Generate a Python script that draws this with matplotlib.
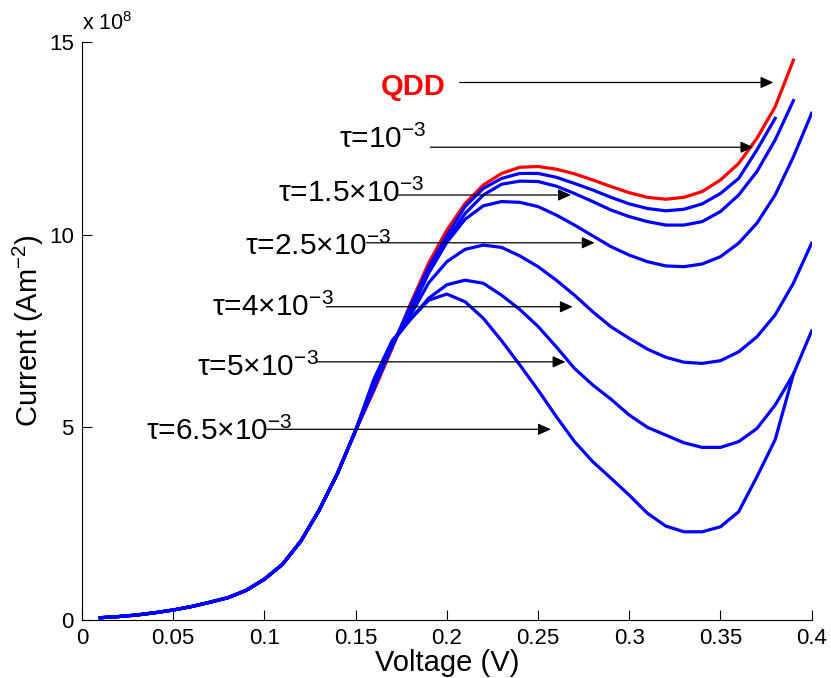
import matplotlib
matplotlib.use("Agg")
import matplotlib.pyplot as plt

plt.rcParams['font.family'] = ['Liberation Sans', 'DejaVu Sans']
plt.rcParams['mathtext.fontset'] = 'custom'
plt.rcParams['mathtext.rm'] = 'Liberation Sans'
plt.rcParams['mathtext.it'] = 'Liberation Sans:italic'
plt.rcParams['mathtext.bf'] = 'Liberation Sans:bold'

# voltage grid (V)
voltage = [0.01, 0.02, 0.03, 0.04, 0.05, 0.06, 0.07, 0.08, 0.09, 0.10,
           0.11, 0.12, 0.13, 0.14, 0.15, 0.16, 0.17, 0.18, 0.19, 0.20,
           0.21, 0.22, 0.23, 0.24, 0.25, 0.26, 0.27, 0.28, 0.29, 0.30,
           0.31, 0.32, 0.33, 0.34, 0.35, 0.36, 0.37, 0.38, 0.39, 0.40]

# current in units of 1e8 A/m^2, common rising part 0.01 .. 0.15 V
rise = [0.06, 0.09, 0.13, 0.19, 0.26, 0.35, 0.46, 0.58, 0.77, 1.06,
        1.45, 2.05, 2.85, 3.80, 4.92]

# from 0.16 V onward
qdd = [5.95, 7.05, 8.20, 9.26, 10.12, 10.81, 11.29, 11.59, 11.75, 11.77,
       11.70, 11.58, 11.42, 11.25, 11.09, 10.97, 10.92, 10.97, 11.12, 11.42,
       11.85, 12.50, 13.32, 14.53]
tau_1 = [6.00, 7.10, 8.15, 9.15, 9.98, 10.73, 11.20, 11.46, 11.59, 11.59,
         11.49, 11.33, 11.16, 10.97, 10.80, 10.68, 10.62, 10.66, 10.80, 11.07,
         11.46, 12.20, 13.02]
tau_15 = [6.05, 7.10, 8.10, 9.05, 9.86, 10.55, 11.03, 11.31, 11.39, 11.38,
          11.26, 11.07, 10.86, 10.64, 10.47, 10.34, 10.25, 10.25, 10.34, 10.60,
          11.03, 11.64, 12.46, 13.48]
tau_25 = [6.10, 7.15, 8.00, 9.00, 9.80, 10.40, 10.75, 10.86, 10.84, 10.73,
          10.51, 10.25, 9.97, 9.69, 9.47, 9.30, 9.19, 9.17, 9.24, 9.43,
          9.78, 10.30, 11.03, 12.02, 13.15]
tau_4 = [6.15, 7.20, 7.90, 8.75, 9.30, 9.62, 9.73, 9.67, 9.45, 9.17,
         8.82, 8.43, 8.00, 7.61, 7.31, 7.03, 6.82, 6.69, 6.66, 6.73,
         6.96, 7.35, 7.92, 8.74, 9.78]
tau_5 = [6.20, 7.20, 7.80, 8.35, 8.70, 8.82, 8.74, 8.43, 8.06, 7.62,
         7.09, 6.53, 6.10, 5.73, 5.32, 5.00, 4.80, 4.60, 4.48, 4.48,
         4.63, 4.97, 5.58, 6.38, 7.50]
tau_65 = [6.25, 7.25, 7.80, 8.30, 8.46, 8.26, 7.83, 7.25, 6.62, 5.97,
          5.28, 4.63, 4.11, 3.68, 3.24, 2.77, 2.44, 2.29, 2.29, 2.42,
          2.81, 3.72, 4.68, 6.38]

blue_series = [tau_1, tau_15, tau_25, tau_4, tau_5, tau_65]

# label texts, where they sit, and the arrows next to them
labels = ['τ=10$^{-3}$', 'τ=1.5×10$^{-3}$', 'τ=2.5×10$^{-3}$',
          'τ=4×10$^{-3}$', 'τ=5×10$^{-3}$', 'τ=6.5×10$^{-3}$']
label_x = [0.189, 0.188, 0.170, 0.138, 0.1295, 0.1156]
label_y = [12.25, 10.85, 9.47, 7.89, 6.33, 4.67]
arrow_y = [12.27, 11.03, 9.79, 8.13, 6.70, 4.95]
arrow_start = [0.191, 0.173, 0.156, 0.134, 0.1286, 0.101]
arrow_end = [0.368, 0.268, 0.281, 0.269, 0.265, 0.257]

fig = plt.figure(figsize=(8.31, 6.78), dpi=100)
ax = fig.add_axes([0.0987, 0.0855, 0.878, 0.8525])

y = rise + qdd
ax.plot(voltage[:len(y)], y, color='red', lw=2.3)
for s in blue_series:
    y = rise + s
    ax.plot(voltage[:len(y)], y, color='blue', lw=2.3)

arrow_kw = dict(arrowstyle='-|>,head_length=0.55,head_width=0.25',
                color='black', lw=0.9, shrinkA=0, shrinkB=0, mutation_scale=14)

# QDD
ax.annotate('', xy=(0.379, 13.95), xytext=(0.2071, 13.95), arrowprops=arrow_kw)
ax.text(0.199, 13.83, 'QDD', color='red', fontsize=21, fontweight='bold',
        ha='right', va='center')

for i in range(len(labels)):
    ax.annotate('', xy=(arrow_end[i], arrow_y[i]), xytext=(arrow_start[i], arrow_y[i]),
                arrowprops=arrow_kw)
    ax.text(label_x[i], label_y[i], labels[i], fontsize=21.5, ha='right', va='baseline')

ax.set_xlim(0, 0.4)
ax.set_ylim(0, 15)
ax.set_xticks([0, 0.05, 0.1, 0.15, 0.2, 0.25, 0.3, 0.35, 0.4])
ax.set_xticklabels(['0', '0.05', '0.1', '0.15', '0.2', '0.25', '0.3', '0.35', '0.4'])
ax.set_yticks([0, 5, 10, 15])
ax.tick_params(direction='in', length=7, labelsize=16, pad=6)
ax.spines['top'].set_visible(False)
ax.spines['right'].set_visible(False)

ax.text(0.0, 1.012, r'x 10$^8$', transform=ax.transAxes, fontsize=15.5,
        ha='left', va='bottom')

ax.set_xlabel('Voltage (V)', fontsize=21, labelpad=0)
ax.set_ylabel('Current (Am$^{-2}$)', fontsize=21, labelpad=2)

fig.savefig('out.png', dpi=100)
